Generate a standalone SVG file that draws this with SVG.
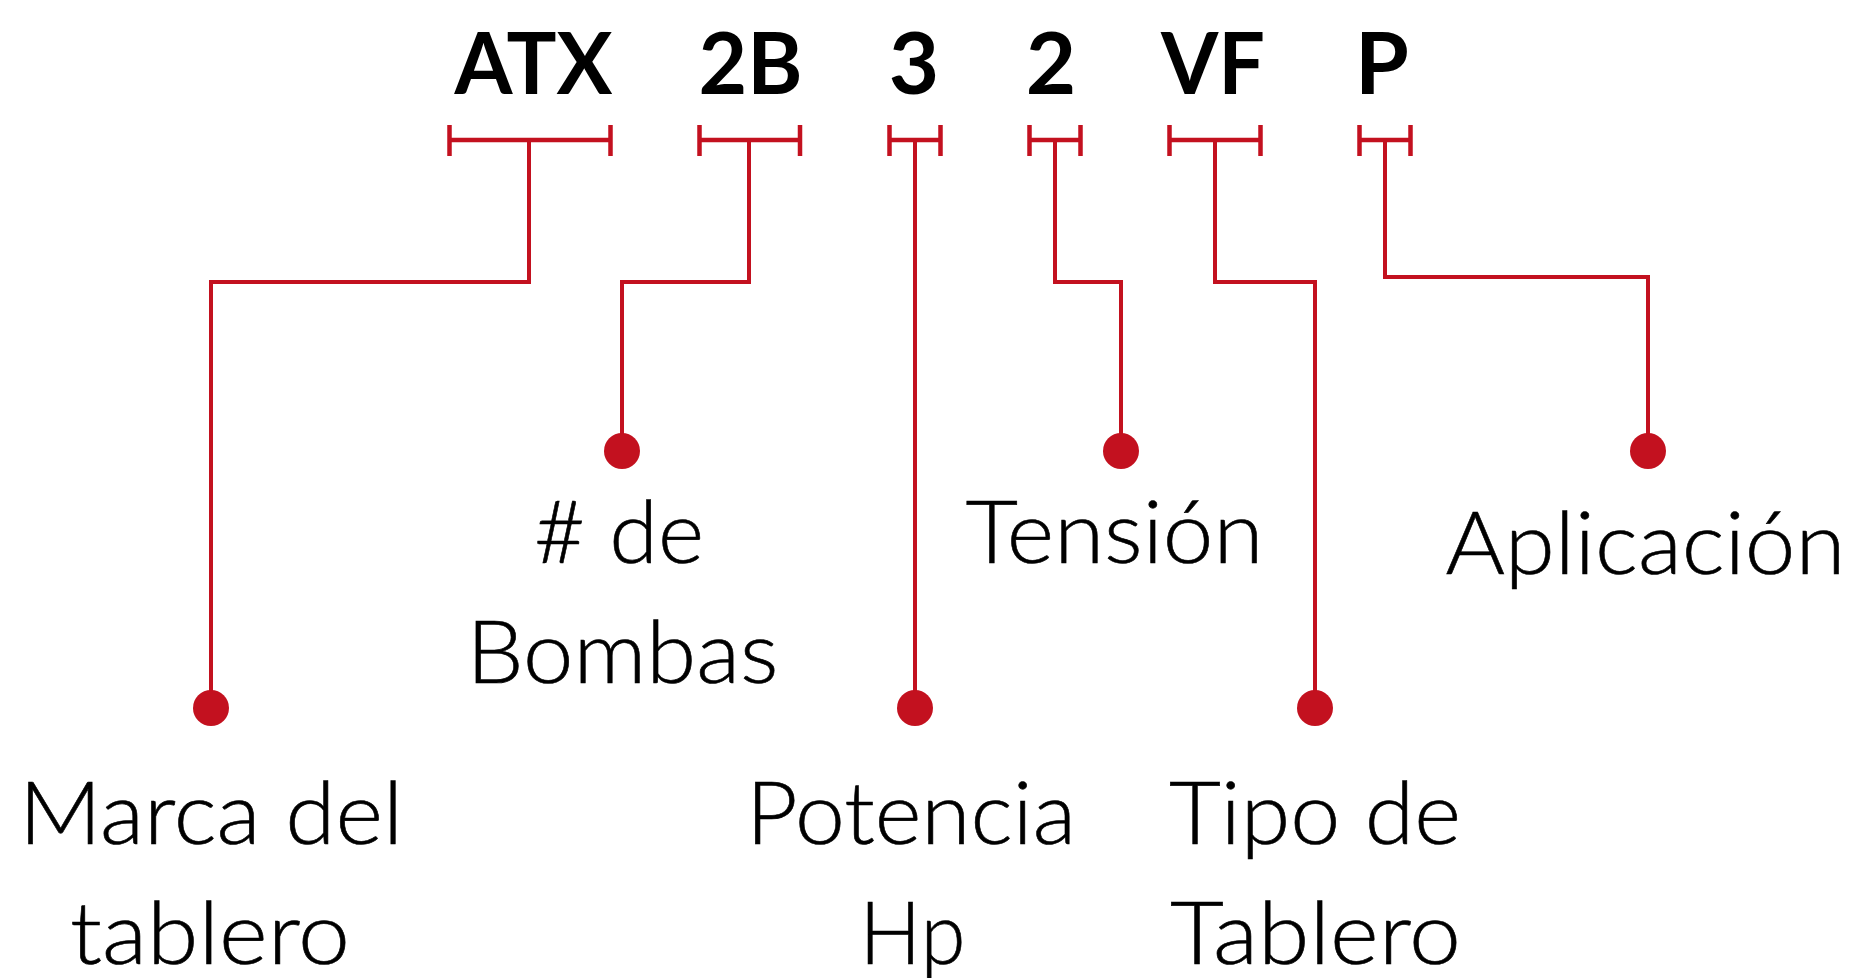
<svg xmlns="http://www.w3.org/2000/svg" width="1859" height="978" viewBox="0 0 1859 978">
<style>
.code{font-family:Lato,"Liberation Sans",sans-serif;font-weight:700;font-size:87px;fill:#000;text-anchor:middle}
.lbl{font-family:Lato,"Liberation Sans",sans-serif;font-weight:300;font-size:87px;fill:#000;stroke:#000;stroke-width:0.6;text-anchor:middle}
.br{stroke:#C3111F;stroke-width:4.5;fill:none}
.cn{stroke:#C3111F;stroke-width:4;fill:none}
.dot{fill:#C3111F}
</style>
<rect width="1859" height="978" fill="#fff"/>
<g id="codes">
<g id="code-atx"><text class="code" x="533.5" y="94" textLength="158" lengthAdjust="spacingAndGlyphs">ATX</text><path class="br" d="M449.5 125V156M610.5 125V156M449.5 140H610.5"/></g>
<g id="code-2b"><text class="code" x="750.5" y="94" textLength="104" lengthAdjust="spacingAndGlyphs">2B</text><path class="br" d="M699.5 125V156M800 125V156M699.5 140H800"/></g>
<g id="code-3"><text class="code" x="914" y="94">3</text><path class="br" d="M889.5 125V156M940.5 125V156M889.5 140H940.5"/></g>
<g id="code-2"><text class="code" x="1051" y="94">2</text><path class="br" d="M1029.5 125V156M1080.5 125V156M1029.5 140H1080.5"/></g>
<g id="code-vf"><text class="code" x="1213" y="94" textLength="104" lengthAdjust="spacingAndGlyphs">VF</text><path class="br" d="M1169.5 125V156M1260.5 125V156M1169.5 140H1260.5"/></g>
<g id="code-p"><text class="code" x="1382" y="94">P</text><path class="br" d="M1359.5 125V156M1410.5 125V156M1359.5 140H1410.5"/></g>
</g>
<g id="connectors">
<path class="cn" d="M529 140V282H211V700"/>
<path class="cn" d="M749 140V282H622V445"/>
<path class="cn" d="M915 140V700"/>
<path class="cn" d="M1055 140V282H1121V445"/>
<path class="cn" d="M1215 140V282H1315V700"/>
<path class="cn" d="M1385 140V277H1648V445"/>
</g>
<g id="node-marca"><circle class="dot" cx="211" cy="708" r="18"/><text class="lbl" x="211" y="844" textLength="384" lengthAdjust="spacingAndGlyphs">Marca del</text><text class="lbl" x="210" y="964" textLength="280" lengthAdjust="spacingAndGlyphs">tablero</text></g>
<g id="node-bombas"><circle class="dot" cx="622" cy="451" r="18"/><text class="lbl" x="619" y="563" textLength="170" lengthAdjust="spacingAndGlyphs"># de</text><text class="lbl" x="622.5" y="683" textLength="312" lengthAdjust="spacingAndGlyphs">Bombas</text></g>
<g id="node-potencia"><circle class="dot" cx="915" cy="708" r="18"/><text class="lbl" x="911" y="844" textLength="330" lengthAdjust="spacingAndGlyphs">Potencia</text><text class="lbl" x="912.5" y="964" textLength="106" lengthAdjust="spacingAndGlyphs">Hp</text></g>
<g id="node-tension"><circle class="dot" cx="1121" cy="451" r="18"/><text class="lbl" x="1114.5" y="563" textLength="298" lengthAdjust="spacingAndGlyphs">Tensión</text></g>
<g id="node-tipo"><circle class="dot" cx="1315" cy="708" r="18"/><text class="lbl" x="1315" y="844" textLength="292" lengthAdjust="spacingAndGlyphs">Tipo de</text><text class="lbl" x="1315.5" y="964" textLength="291" lengthAdjust="spacingAndGlyphs">Tablero</text></g>
<g id="node-aplicacion"><circle class="dot" cx="1648" cy="451" r="18"/><text class="lbl" x="1645.5" y="574" textLength="400" lengthAdjust="spacingAndGlyphs">Aplicación</text></g>
</svg>
